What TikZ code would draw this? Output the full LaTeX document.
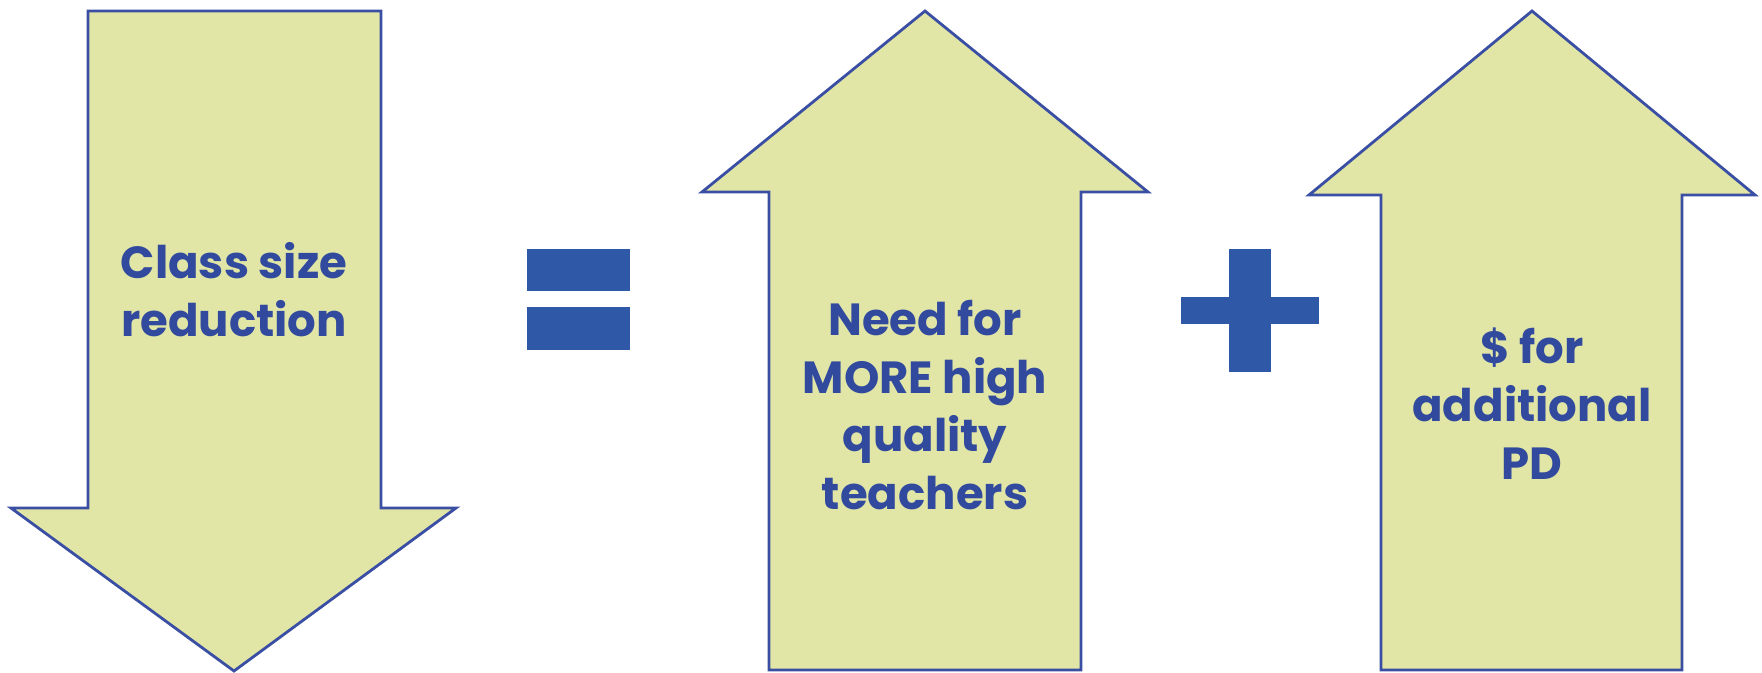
\documentclass[tikz,border=0pt]{standalone}
\usepackage{fontspec}
\setmainfont{Poppins}
\definecolor{arrowfill}{HTML}{E1E6A7}
\definecolor{arrowline}{HTML}{3A4FA3}
\definecolor{labeltext}{HTML}{324A9E}
\definecolor{signblue}{HTML}{2F58A6}

\begin{document}
\begin{tikzpicture}[x=0.01cm,y=-0.01cm,
    bigarrow/.style={draw=arrowline,fill=arrowfill,line width=0.8pt},
    sign/.style={fill=signblue},
    lbl/.style={text=labeltext,align=center,font=\fontsize{12.8}{16.5}\selectfont\bfseries}]
  \useasboundingbox (0,0) rectangle (1762,672);

  \draw[bigarrow] (88,11) -- (381,11) -- (381,508) -- (456,508) -- (234,671)
    -- (11,508) -- (88,508) -- cycle;
  \draw[bigarrow] (769,670) -- (769,192) -- (702,192) -- (925,11) -- (1148,192)
    -- (1081,192) -- (1081,670) -- cycle;
  \draw[bigarrow] (1381,670) -- (1381,195) -- (1309,195) -- (1532,11) -- (1755,195)
    -- (1682,195) -- (1682,670) -- cycle;

  \fill[sign] (527,249) rectangle (630,291);
  \fill[sign] (527,307) rectangle (630,350);

  \fill[sign] (1229,249) rectangle (1271,372);
  \fill[sign] (1181,297) rectangle (1319,324);

  \node[lbl] (csr) at (234,290) {Class size\\reduction};
  \node[lbl] (need) at (925,405) {Need for\\MORE high\\quality\\teachers};
  \node[lbl] (pd) at (1532,404) {\$ for\\additional\\PD};
\end{tikzpicture}
\end{document}
